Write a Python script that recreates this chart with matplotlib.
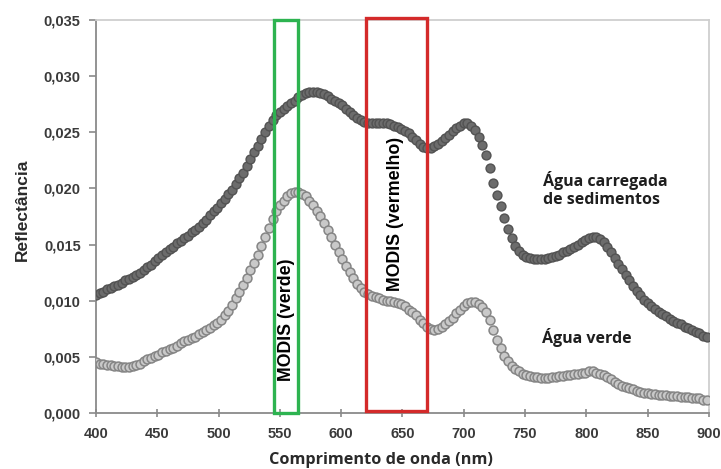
import numpy as np
import matplotlib
matplotlib.use("Agg")
import matplotlib.pyplot as plt
from matplotlib.patches import Rectangle
from matplotlib.ticker import FuncFormatter

# wavelengths (nm), one sample every 3 nm
wavelength = np.arange(400, 900, 3)

# "Água carregada de sedimentos"
sediment = [
    0.0105, 0.0107, 0.0108, 0.0110, 0.0111, 0.0113, 0.0114, 0.0116, 0.0118, 0.0119,
    0.0121, 0.0123, 0.0125, 0.0127, 0.0130, 0.0132, 0.0135, 0.0138, 0.0141, 0.0143,
    0.0146, 0.0148, 0.0151, 0.0153, 0.0156, 0.0158, 0.0161, 0.0163, 0.0166, 0.0169,
    0.0172, 0.0176, 0.0180, 0.0183, 0.0187, 0.0191, 0.0195, 0.0199, 0.0204, 0.0209,
    0.0214, 0.0220, 0.0226, 0.0232, 0.0238, 0.0244, 0.0250, 0.0256, 0.0261, 0.0265,
    0.0268, 0.0271, 0.0273, 0.0276, 0.0278, 0.0281, 0.0283, 0.0285, 0.0286, 0.0286,
    0.0286, 0.0285, 0.0284, 0.0282, 0.0280, 0.0278, 0.0276, 0.0274, 0.0271, 0.0268,
    0.0265, 0.0263, 0.0261, 0.0259, 0.0258, 0.0258, 0.0258, 0.0258, 0.0258, 0.0258,
    0.0257, 0.0256, 0.0255, 0.0253, 0.0251, 0.0249, 0.0246, 0.0243, 0.0240, 0.0237,
    0.0236, 0.0236, 0.0238, 0.0240, 0.0242, 0.0245, 0.0248, 0.0251, 0.0254, 0.0256,
    0.0258, 0.0258, 0.0256, 0.0252, 0.0246, 0.0239, 0.0230, 0.0218, 0.0205, 0.0194,
    0.0184, 0.0174, 0.0164, 0.0156, 0.0149, 0.0144, 0.0141, 0.0139, 0.0138, 0.0137,
    0.0137, 0.0137, 0.0137, 0.0138, 0.0139, 0.0140, 0.0141, 0.0143, 0.0144, 0.0146,
    0.0148, 0.0150, 0.0152, 0.0154, 0.0156, 0.0157, 0.0157, 0.0155, 0.0152, 0.0148,
    0.0143, 0.0138, 0.0133, 0.0128, 0.0123, 0.0118, 0.0113, 0.0109, 0.0105, 0.0101,
    0.0098, 0.0095, 0.0093, 0.0090, 0.0088, 0.0086, 0.0084, 0.0082, 0.0080, 0.0079,
    0.0077, 0.0076, 0.0074, 0.0072, 0.0071, 0.0069, 0.0068,
]

# "Água verde"
green_water = [
    0.0045, 0.0044, 0.0044, 0.0043, 0.0043, 0.0042, 0.0042, 0.0041, 0.0041, 0.0041,
    0.0042, 0.0043, 0.0044, 0.0046, 0.0048, 0.0049, 0.0051, 0.0052, 0.0054, 0.0055,
    0.0057, 0.0058, 0.0060, 0.0062, 0.0064, 0.0065, 0.0067, 0.0068, 0.0070, 0.0072,
    0.0074, 0.0076, 0.0078, 0.0080, 0.0083, 0.0087, 0.0091, 0.0096, 0.0102, 0.0108,
    0.0114, 0.0120, 0.0127, 0.0134, 0.0141, 0.0149, 0.0157, 0.0165, 0.0173, 0.0180,
    0.0185, 0.0189, 0.0193, 0.0196, 0.0197, 0.0197, 0.0195, 0.0193, 0.0189, 0.0185,
    0.0180, 0.0175, 0.0169, 0.0163, 0.0157, 0.0150, 0.0143, 0.0137, 0.0131, 0.0126,
    0.0120, 0.0115, 0.0111, 0.0108, 0.0106, 0.0104, 0.0103, 0.0102, 0.0101, 0.0100,
    0.0100, 0.0099, 0.0098, 0.0097, 0.0095, 0.0092, 0.0090, 0.0087, 0.0083, 0.0080,
    0.0077, 0.0075, 0.0074, 0.0075, 0.0077, 0.0079, 0.0082, 0.0085, 0.0089, 0.0092,
    0.0095, 0.0098, 0.0099, 0.0099, 0.0097, 0.0094, 0.0090, 0.0083, 0.0074, 0.0065,
    0.0058, 0.0051, 0.0046, 0.0042, 0.0039, 0.0037, 0.0035, 0.0034, 0.0033, 0.0032,
    0.0032, 0.0031, 0.0031, 0.0031, 0.0032, 0.0032, 0.0033, 0.0033, 0.0034, 0.0034,
    0.0035, 0.0035, 0.0036, 0.0036, 0.0037, 0.0037, 0.0036, 0.0035, 0.0034, 0.0032,
    0.0030, 0.0028, 0.0026, 0.0024, 0.0023, 0.0022, 0.0021, 0.0020, 0.0019, 0.0018,
    0.0018, 0.0017, 0.0017, 0.0016, 0.0016, 0.0016, 0.0015, 0.0015, 0.0015, 0.0014,
    0.0014, 0.0014, 0.0013, 0.0013, 0.0013, 0.0012, 0.0012,
]

# MODIS bands (nm)
green_band = (545, 565)
red_band = (620, 670)

x_ticks = [400, 450, 500, 550, 600, 650, 700, 750, 800, 850, 900]
y_ticks = [0.000, 0.005, 0.010, 0.015, 0.020, 0.025, 0.030, 0.035]

plt.rcParams['font.family'] = ['Liberation Sans', 'DejaVu Sans']
HUMANIST = ['Open Sans', 'DejaVu Sans']

fig = plt.figure(figsize=(7.21, 4.69), dpi=100)
ax = fig.add_axes([0.1331, 0.1194, 0.8503, 0.838])

ax.plot(wavelength, green_water, linestyle='none', marker='o', markersize=6.4,
        markerfacecolor='#c9c9c9', markeredgecolor='#858585', markeredgewidth=1.1, zorder=3)
ax.plot(wavelength, sediment, linestyle='none', marker='o', markersize=6.4,
        markerfacecolor='#6c6c6c', markeredgecolor='#525252', markeredgewidth=1.0, zorder=3)

ax.add_patch(Rectangle((green_band[0], 0), green_band[1] - green_band[0], 0.035,
                       fill=False, edgecolor='#2db350', linewidth=2.4, zorder=4, clip_on=False))
ax.add_patch(Rectangle((red_band[0], 0.0002), red_band[1] - red_band[0], 0.035,
                       fill=False, edgecolor='#d42a2a', linewidth=2.4, zorder=4, clip_on=False))

ax.text(555.8, 0.0083, 'MODIS (verde)', rotation=90, ha='center', va='center',
        fontsize=12.8, fontweight='bold', color='black', zorder=5)
ax.text(644, 0.0177, 'MODIS (vermelho)', rotation=90, ha='center', va='center',
        fontsize=12.8, fontweight='bold', color='black', zorder=5)

ax.text(764.5, 0.0199, 'Água carregada\nde sedimentos', ha='left', va='center',
        fontsize=11.5, fontweight='bold', family=HUMANIST,
        color='#1e1e1e', linespacing=1.1)
ax.text(764, 0.0067, 'Água verde', ha='left', va='center',
        fontsize=11.5, fontweight='bold', family=HUMANIST, color='#1e1e1e')

ax.set_xlim(400, 900)
ax.set_ylim(0, 0.035)
ax.set_xticks(x_ticks)
ax.set_yticks(y_ticks)
ax.yaxis.set_major_formatter(FuncFormatter(lambda v, p: f'{v:.3f}'.replace('.', ',')))

for lab in ax.get_xticklabels() + ax.get_yticklabels():
    lab.set_fontweight('bold')
ax.tick_params(axis='both', labelsize=10.5, colors='#8a8a8a', labelcolor='#3a3a3a', width=1.2)
ax.tick_params(axis='x', direction='inout', length=6, pad=7)
ax.tick_params(axis='y', direction='out', length=5, pad=6)

for side in ('left', 'bottom'):
    ax.spines[side].set_color('#8a8a8a')
    ax.spines[side].set_linewidth(1.3)
for side in ('top', 'right'):
    ax.spines[side].set_color('#cfcfcf')
    ax.spines[side].set_linewidth(1.3)

ax.set_xlabel('Comprimento de onda (nm)', fontsize=11.7, fontweight='bold',
              family=HUMANIST, color='#2a2a2a')
ax.xaxis.set_label_coords(0.465, -0.098)
ax.set_ylabel('Reflectância', fontsize=12.5, fontweight='bold', color='#2a2a2a')
ax.yaxis.set_label_coords(-0.108, 0.518)

fig.savefig('out.png', dpi=100)
